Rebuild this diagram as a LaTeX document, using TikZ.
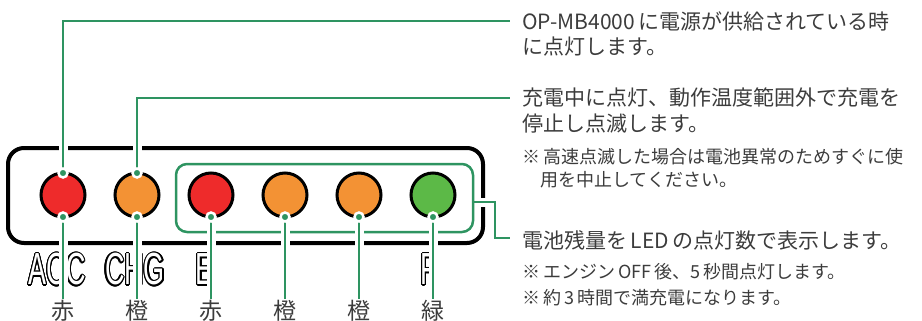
\documentclass[tikz,border=0pt]{standalone}
\usepackage{fontspec}
\usepackage{contour}
\usetikzlibrary{positioning}
\setmainfont{Noto Sans CJK JP}
\newfontfamily\lblfont[FakeStretch=0.6]{Liberation Sans}
\definecolor{ledred}{HTML}{EE2B2B}
\definecolor{ledorange}{HTML}{F39234}
\definecolor{ledgreen}{HTML}{5CB947}
\definecolor{leadgreen}{HTML}{2E9461}
\definecolor{notegray}{HTML}{3C3C3C}
\contourlength{1.2pt}

\begin{document}
\begin{tikzpicture}[x=1pt,y=-1pt,
  led/.style={circle,draw=black,line width=3pt,minimum size=44pt,inner sep=0pt,outer sep=0pt},
  lead/.style={draw=leadgreen,line width=2.5pt,preaction={draw=white,line width=9pt}},
  ledot/.style={circle,fill=leadgreen,draw=white,line width=2.5pt,inner sep=0pt,minimum size=9pt},
  note/.style={anchor=west,inner sep=0pt,text=notegray,font=\fontsize{21}{25}\selectfont},
  subnote/.style={note,font=\fontsize{18}{22}\selectfont},
  colname/.style={inner sep=1pt,text=notegray,font=\fontsize{23}{23}\selectfont},
  panel/.style={inner sep=0pt,font=\lblfont\fontsize{45}{45}\selectfont}]
\useasboundingbox (0,0) rectangle (922,321);
\draw[line width=4pt,rounded corners=16pt] (8,148) rectangle (483,243);
\coordinate (grpe) at (474,202);
\draw[lead] (grpe) -- (495,202) |- (510,238);
\draw[leadgreen,line width=2.5pt,rounded corners=11pt] (176,164) rectangle (473,232);
\node[led,fill=ledred] (acc) at (63,195) {};
\node[led,fill=ledorange] (chg) at (137,195) {};
\node[led,fill=ledred] (ble) at (211,195) {};
\node[led,fill=ledorange] (blb) at (285,195) {};
\node[led,fill=ledorange] (blc) at (359,195) {};
\node[led,fill=ledgreen] (blf) at (433,195) {};
\node[panel] (acclbl) at (57,270) {\contour{black}{\textcolor{white}{ACC}}};
\node[panel] (chglbl) at (135,270) {\contour{black}{\textcolor{white}{CHG}}};
\node[panel] (elbl) at (205,270) {\contour{black}{\textcolor{white}{E}}};
\node[panel] (flbl) at (429,270) {\contour{black}{\textcolor{white}{F}}};
\node[note] (acc1) at (522,21) {OP-MB4000\,に電源が供給されている時};
\node[note] (acc2) at (522,47) {に点灯します。};
\node[note] (chg1) at (522,98) {充電中に点灯、動作温度範囲外で充電を};
\node[note] (chg2) at (522,124) {停止し点滅します。};
\node[subnote] (chgn1) at (522,157) {※\,高速点滅した場合は電池異常のためすぐに使};
\node[subnote] (chgn2) at (540,180) {用を中止してください。};
\node[note] (bat1) at (522,240) {電池残量を\,LED\,の点灯数で表示します。};
\node[subnote] (batn1) at (522,272) {※\,エンジン\,OFF\,後、5\,秒間点灯します。};
\node[subnote] (batn2) at (522,298) {※\,約\,3\,時間で満充電になります。};
\node[colname] (accc) at (63,311) {赤};
\node[colname] (chgc) at (137,311) {橙};
\node[colname] (blec) at (211,311) {赤};
\node[colname] (blbc) at (285,311) {橙};
\node[colname] (blcc) at (359,311) {橙};
\node[colname] (blfc) at (433,311) {緑};
\draw[lead] (acc.north) |- ([xshift=-12pt]acc1.west);
\draw[lead] (chg.north) |- ([xshift=-12pt]chg1.west);
\foreach \l in {acc,chg,ble,blb,blc,blf}
  \draw[lead] (\l.south) -- (\l c.north);
\node[ledot] (accdt) at (acc.north) {};
\node[ledot] (chgdt) at (chg.north) {};
\foreach \l in {acc,chg,ble,blb,blc,blf}
  \node[ledot] (\l db) at (\l.south) {};
\end{tikzpicture}
\end{document}
